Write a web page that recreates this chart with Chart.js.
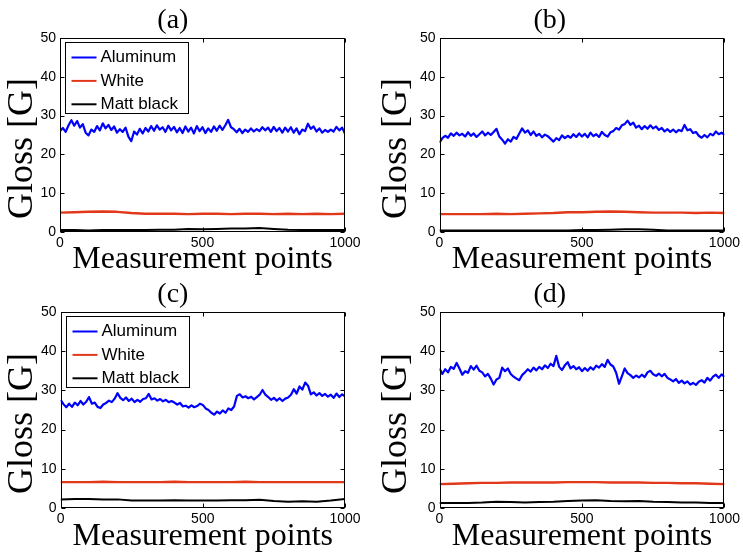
<!DOCTYPE html>
<html>
<head>
<meta charset="utf-8">
<script src="https://cdn.jsdelivr.net/npm/chart.js@4.4.1/dist/chart.umd.min.js"></script>
<style>
    html, body { margin: 0; padding: 0; background: #fff; }
    #page { position: relative; width: 743px; height: 553px; overflow: hidden; background: #fff; }
    #page canvas { position: absolute; }
</style>
</head>
<body>
<div id="page">
    <canvas id="panelA" width="372" height="276" style="left:0;top:0"></canvas>
    <canvas id="panelB" width="371" height="276" style="left:372px;top:0"></canvas>
    <canvas id="panelC" width="372" height="277" style="left:0;top:276px"></canvas>
    <canvas id="panelD" width="371" height="277" style="left:372px;top:276px"></canvas>
</div>
<script>
// ================= DATA =================
const seriesNames = ['Aluminum', 'White', 'Matt black'];
const xTicks = [0, 500, 1000];
const yTicks = [0, 10, 20, 30, 40, 50];

// Aluminum: one reading every 10 measurement points (0..1000)
const aluminumA = [
    26.0, 26.8, 25.8, 27.5, 28.8, 27.4, 28.6, 26.9, 27.8, 25.6,
    24.9, 26.4, 25.8, 27.3, 26.2, 28.0, 26.7, 27.6, 26.3, 27.2,
    25.6, 26.5, 25.8, 26.9, 24.6, 23.4, 25.9, 25.1, 26.6, 25.4,
    26.8, 25.9, 27.3, 26.1, 27.5, 26.4, 27.0, 25.8, 27.4, 26.2,
    27.1, 25.7, 26.8, 25.5, 27.2, 25.9, 26.9, 25.4, 27.3, 26.0,
    27.0, 25.5, 26.7, 25.8, 27.2, 26.1, 27.4, 26.3, 27.5, 28.9,
    27.0, 26.5, 25.7, 26.6, 25.5, 26.4, 25.8, 26.7, 25.9, 26.5,
    26.0, 27.0, 26.2, 26.9, 25.8, 27.1, 26.0, 26.8, 25.6, 26.9,
    25.9, 27.0, 25.6, 26.7, 25.2, 26.4, 26.0, 27.9, 26.6, 27.2,
    25.9, 26.7, 25.6, 26.3, 25.8, 26.4, 25.9, 27.1, 26.2, 26.9,
    25.3
];
const aluminumB = [
    23.0, 24.2, 24.8, 24.3, 25.4, 24.8, 25.6, 24.9, 25.3, 24.6,
    25.7, 24.8, 25.4, 24.5, 25.2, 25.9, 24.9, 25.6, 25.0, 25.8,
    26.6, 24.6, 23.8, 22.8, 23.9, 23.3, 24.5, 24.0, 25.4, 26.7,
    25.6, 26.2, 25.0, 25.9, 24.8, 25.3, 24.4, 25.1, 24.7, 24.0,
    23.3, 24.2, 23.7, 24.9, 24.2, 24.8, 24.3, 25.2, 24.5, 25.4,
    24.6, 25.3, 24.4, 25.6, 24.7, 25.2, 24.5, 25.8, 25.0, 24.6,
    25.7, 26.0, 26.8, 26.4, 27.5, 27.8, 28.7, 27.6, 28.2, 26.9,
    27.4, 26.5, 27.3, 26.6, 27.5, 26.7, 27.2, 26.3, 26.8, 25.9,
    26.5, 25.8, 26.4, 25.7, 26.3, 26.0, 27.6, 26.2, 26.5, 25.5,
    25.8, 24.8, 24.3, 25.0, 24.4, 25.3, 24.9, 25.9, 25.2, 25.6,
    25.0
];
const aluminumC = [
    27.6, 26.5, 25.7, 26.6, 25.8, 26.9, 26.2, 27.3, 26.4, 27.1,
    28.3, 26.6, 26.9, 25.8, 25.5, 26.4, 26.8, 27.4, 27.0, 27.9,
    29.3, 28.1, 27.5, 28.2, 27.3, 27.9, 27.0, 27.6, 27.1, 27.8,
    28.0, 29.1, 27.7, 28.0, 27.4, 27.8, 27.2, 27.6, 27.0, 27.3,
    26.9, 26.4, 26.8, 25.9, 26.1, 25.6, 26.2, 25.7, 26.0, 26.6,
    26.3, 25.4, 25.0, 24.3, 23.8, 24.6, 24.1, 24.9, 24.3, 25.4,
    25.0, 25.9, 28.6, 29.0, 28.2, 28.5, 28.0, 28.4, 27.7, 28.3,
    28.9, 30.1, 28.9, 28.3, 27.6, 28.1, 27.4, 28.0, 27.3, 27.9,
    28.2, 28.9, 30.3, 29.2, 31.0, 30.2, 32.0, 31.2, 29.0, 29.5,
    28.7, 29.3, 28.6, 29.1, 28.4, 28.9, 28.1, 29.2, 28.3, 29.0,
    28.5
];
const aluminumD = [
    35.6, 34.2, 35.4, 34.6, 36.0, 35.5, 37.0, 35.6, 34.0, 34.9,
    34.5, 36.2, 35.3, 36.3, 35.0, 34.6, 33.6, 34.2, 33.0, 31.5,
    32.8, 33.2, 35.8, 34.9, 35.6, 34.2, 33.5, 33.0, 32.6, 33.9,
    34.6, 35.4, 34.8, 35.8, 35.1, 36.0, 35.4, 36.4, 35.7, 36.8,
    36.2, 38.8, 36.0, 35.2, 36.4, 37.2, 35.6, 36.2, 35.4, 35.9,
    34.9, 35.7, 35.0, 35.9, 35.3, 36.3, 35.8, 36.7, 36.0, 37.8,
    36.6, 36.1, 34.5, 31.7, 33.6, 35.6, 34.4, 33.9, 33.2, 33.8,
    33.3, 34.0, 33.4, 34.6, 35.0, 34.1, 33.7, 34.3, 33.6, 34.2,
    33.2, 32.8, 32.3, 32.9, 31.9, 32.5, 31.8, 32.3, 31.5, 31.9,
    31.4, 32.2, 32.6, 32.0, 33.2, 32.5, 33.5, 34.0, 33.2, 34.1,
    33.4
];

// White and Matt black: one reading every 50 measurement points (0..1000)
const whiteA = [5.0, 5.1, 5.2, 5.3, 5.2, 4.9, 4.7, 4.7, 4.7, 4.6, 4.7,
                4.7, 4.6, 4.7, 4.7, 4.6, 4.7, 4.6, 4.7, 4.6, 4.7];
const blackA = [0.5, 0.5, 0.4, 0.5, 0.5, 0.5, 0.5, 0.6, 0.6, 0.8, 0.7,
                0.8, 0.9, 0.9, 1.0, 0.8, 0.6, 0.5, 0.5, 0.5, 0.5];
const whiteB = [4.6, 4.6, 4.6, 4.6, 4.7, 4.6, 4.7, 4.8, 4.9, 5.1, 5.1,
                5.2, 5.3, 5.2, 5.1, 5.0, 5.0, 5.0, 4.9, 5.0, 4.9];
const blackB = [0.4, 0.4, 0.4, 0.4, 0.4, 0.4, 0.4, 0.4, 0.4, 0.4, 0.5,
                0.5, 0.6, 0.7, 0.7, 0.6, 0.4, 0.4, 0.4, 0.4, 0.4];
const whiteC = [6.6, 6.6, 6.6, 6.7, 6.6, 6.6, 6.6, 6.6, 6.7, 6.6, 6.6,
                6.6, 6.6, 6.7, 6.6, 6.6, 6.6, 6.6, 6.6, 6.6, 6.6];
const blackC = [2.2, 2.3, 2.3, 2.2, 2.2, 1.9, 1.9, 1.9, 2.0, 1.9, 1.9,
                1.9, 2.0, 2.0, 2.1, 1.8, 1.6, 1.7, 1.6, 1.9, 2.3];
const whiteD = [6.1, 6.2, 6.3, 6.4, 6.4, 6.5, 6.5, 6.5, 6.5, 6.6, 6.6,
                6.6, 6.5, 6.5, 6.5, 6.4, 6.4, 6.3, 6.3, 6.2, 6.1];
const blackD = [1.3, 1.3, 1.3, 1.4, 1.6, 1.5, 1.4, 1.5, 1.6, 1.8, 1.9,
                2.0, 1.8, 1.7, 1.8, 1.6, 1.5, 1.4, 1.4, 1.3, 1.3];

// ================= STYLE =================
const colors = ['#0000ff', '#e2381a', '#000000'];
const lineWidths = [2.2, 2.4, 2];
const serif = "'Liberation Serif', 'Times New Roman', serif";
const sans = "'Liberation Sans', Arial, sans-serif";

// ================= HELPERS =================
// spread readings evenly over the 0..1000 measurement range
function toPoints(values) {
    const step = 1000 / (values.length - 1);
    return values.map((v, i) => ({ x: i * step, y: v }));
}

// box, inward tick marks and (optionally) the legend, drawn on top of the lines
const frameAndLegend = {
    id: 'frameAndLegend',
    afterDatasetsDraw(chart, args, opts) {
        const { ctx, chartArea: a, scales: { x, y } } = chart;
        const L = Math.round(a.left) + 0.5;
        const R = Math.round(a.right) - 0.5;
        const T = Math.round(a.top) + 0.5;
        const B = Math.round(a.bottom) - 0.5;
        const tickLen = 4;

        ctx.save();
        ctx.strokeStyle = '#000';
        ctx.lineWidth = 1;
        ctx.strokeRect(L, T, R - L, B - T);

        ctx.beginPath();
        xTicks.forEach(v => {
            const px = Math.round(x.getPixelForValue(v)) + 0.5;
            ctx.moveTo(px, B); ctx.lineTo(px, B - tickLen);
            ctx.moveTo(px, T); ctx.lineTo(px, T + tickLen);
        });
        yTicks.forEach(v => {
            const py = Math.round(y.getPixelForValue(v)) + 0.5;
            ctx.moveTo(L, py); ctx.lineTo(L + tickLen, py);
            ctx.moveTo(R, py); ctx.lineTo(R - tickLen, py);
        });
        ctx.stroke();

        if (opts.show) {
            const bx = L + 5, by = T + 4, bw = 123, bh = 71;
            ctx.fillStyle = '#fff';
            ctx.fillRect(bx, by, bw, bh);
            ctx.strokeRect(bx, by, bw, bh);
            ctx.font = '17px ' + sans;
            ctx.textBaseline = 'middle';
            chart.data.datasets.forEach((ds, i) => {
                const ry = by + 15 + i * 23.4;
                ctx.strokeStyle = ds.borderColor;
                ctx.lineWidth = 2;
                ctx.beginPath();
                ctx.moveTo(bx + 6, ry);
                ctx.lineTo(bx + 31, ry);
                ctx.stroke();
                ctx.fillStyle = '#000';
                ctx.fillText(ds.label, bx + 35, ry);
            });
        }
        ctx.restore();
    }
};

// ================= PANELS =================
const panels = [
    { id: 'panelA', title: '(a)', series: [aluminumA, whiteA, blackA], legend: true },
    { id: 'panelB', title: '(b)', series: [aluminumB, whiteB, blackB], legend: false },
    { id: 'panelC', title: '(c)', series: [aluminumC, whiteC, blackC], legend: true },
    { id: 'panelD', title: '(d)', series: [aluminumD, whiteD, blackD], legend: false }
];

// per-panel placement of the plot area inside its canvas
const layouts = {
    panelA: { padLeft: 0.7, yWidth: 59.3, padRight: 27, titleTop: 4, titleBottom: 0.4, xHeight: 44 },
    panelB: { padLeft: 2.7, yWidth: 64.8, padRight: 18, titleTop: 4, titleBottom: 0.4, xHeight: 44 },
    panelC: { padLeft: 0.7, yWidth: 59.9, padRight: 27, titleTop: 1.5, titleBottom: 0.9, xHeight: 45 },
    panelD: { padLeft: 2.7, yWidth: 64.8, padRight: 18, titleTop: 1.5, titleBottom: 0.9, xHeight: 45 }
};

function renderPanel(p) {
    const lay = layouts[p.id];
    const canvas = document.getElementById(p.id);

    new Chart(canvas, {
        type: 'line',
        data: {
            datasets: p.series.map((values, i) => ({
                label: seriesNames[i],
                data: toPoints(values),
                borderColor: colors[i],
                borderWidth: lineWidths[i],
                borderJoinStyle: 'round',
                pointRadius: 0,
                tension: 0,
                fill: false
            }))
        },
        options: {
            responsive: false,
            animation: false,
            events: [],
            layout: { padding: { left: lay.padLeft, right: lay.padRight, top: 0, bottom: 0 } },
            plugins: {
                legend: { display: false },
                tooltip: { enabled: false },
                title: {
                    display: true,
                    text: p.title,
                    color: '#000',
                    font: { family: serif, size: 28, weight: 'normal', lineHeight: 1.2 },
                    padding: { top: lay.titleTop, bottom: lay.titleBottom }
                },
                frameAndLegend: { show: p.legend }
            },
            scales: {
                x: {
                    type: 'linear',
                    min: 0,
                    max: 1000,
                    afterBuildTicks: s => { s.ticks = xTicks.map(v => ({ value: v })); },
                    afterFit: s => { s.height = lay.xHeight; },
                    ticks: {
                        color: '#000',
                        font: { family: sans, size: 14 },
                        padding: 3,
                        maxRotation: 0,
                        autoSkip: false,
                        callback: v => String(v)
                    },
                    grid: { display: false, drawTicks: false },
                    border: { display: false },
                    title: {
                        display: true,
                        text: 'Measurement points',
                        color: '#000',
                        font: { family: serif, size: 32, lineHeight: 1.0 },
                        padding: { top: 0, bottom: 0 }
                    }
                },
                y: {
                    min: 0,
                    max: 50,
                    afterBuildTicks: s => { s.ticks = yTicks.map(v => ({ value: v })); },
                    afterFit: s => { s.width = lay.yWidth; },
                    ticks: {
                        color: '#000',
                        font: { family: sans, size: 14 },
                        padding: 4,
                        autoSkip: false,
                        callback: v => String(v)
                    },
                    grid: { display: false, drawTicks: false },
                    border: { display: false },
                    title: {
                        display: true,
                        text: 'Gloss [G]   ',
                        color: '#000',
                        font: { family: serif, size: 36, lineHeight: 1.2 },
                        padding: { top: 0, bottom: 0 }
                    }
                }
            }
        },
        plugins: [frameAndLegend]
    });
}

document.addEventListener('DOMContentLoaded', () => {
    panels.forEach(renderPanel);
});
</script>
</body>
</html>
